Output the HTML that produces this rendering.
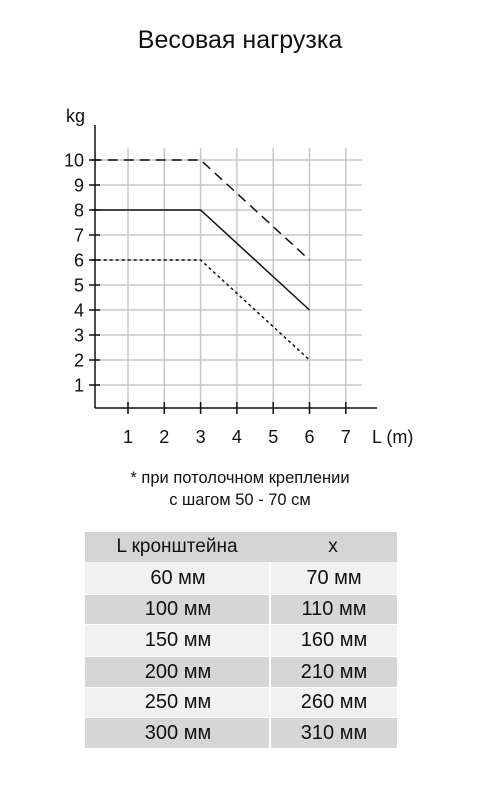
<!DOCTYPE html>
<html><head><meta charset="utf-8"><style>
body{margin:0;background:#fff;font-family:"Liberation Sans","DejaVu Sans",sans-serif;}
#wrap{position:relative;width:480px;height:800px;overflow:hidden;}
.t{position:absolute;color:#111;}
.cell{position:absolute;font-size:20px;text-align:center;color:#111;}
</style></head><body>
<div id="wrap">
<div class="t" style="left:0;width:480px;top:26px;text-align:center;font-size:25px;">Весовая нагрузка</div>
<svg id="chart" width="480" height="460" style="position:absolute;left:0;top:0"></svg>
<div class="t" style="left:0;width:480px;top:467px;text-align:center;font-size:16.5px;line-height:22px;">* при потолочном креплении<br>с шагом 50 - 70 см</div>
<div id="table"></div>
</div>
<script>
const xTicks=[1,2,3,4,5,6,7];
const yTicks=[1,2,3,4,5,6,7,8,9,10];
const seriesX=[0,3,6];
const seriesHigh=[10,10,6];
const seriesMid=[8,8,4];
const seriesLow=[6,6,2];
const colL=["60 мм","100 мм","150 мм","200 мм","250 мм","300 мм"];
const colX=["70 мм","110 мм","160 мм","210 мм","260 мм","310 мм"];

const NS="http://www.w3.org/2000/svg";
const svg=document.getElementById('chart');
const xs=v=>91.7+36.3*v, ys=v=>410-25*v;
function mk(tag,attrs,parent){const e=document.createElementNS(NS,tag);for(const k in attrs)e.setAttribute(k,attrs[k]);(parent||svg).appendChild(e);return e;}
xTicks.forEach(v=>{
 const g=mk('line',{x1:xs(v),x2:xs(v),y1:148,y2:408,stroke:'#c8c8c8','stroke-width':1.5});
 
 const t=mk('line',{x1:xs(v),x2:xs(v),y1:402,y2:414,stroke:'#111','stroke-width':1.5});
 
 const l=mk('text',{x:xs(v),y:443,'text-anchor':'middle','font-size':18,fill:'#111'});
 l.textContent=v;
});
yTicks.forEach(v=>{
 const g=mk('line',{x1:95,x2:362,y1:ys(v),y2:ys(v),stroke:'#c8c8c8','stroke-width':1.5});
 
 const t=mk('line',{x1:89,x2:100,y1:ys(v),y2:ys(v),stroke:'#111','stroke-width':1.5});
 
 const l=mk('text',{x:84,y:ys(v)+6.5,'text-anchor':'end','font-size':18,fill:'#111'});
 l.textContent=v;
});
const ya=mk('line',{x1:95,x2:95,y1:125,y2:408,stroke:'#111','stroke-width':1.5});

const xa=mk('line',{x1:95,x2:377,y1:408,y2:408,stroke:'#111','stroke-width':1.5});

const yt=mk('text',{x:66,y:122,'font-size':18,fill:'#111'});yt.textContent='kg';

const xt=mk('text',{x:372,y:443,'font-size':18,fill:'#111'});xt.textContent='L (m)';

function line(vals,dash,name){
 const p=mk('polyline',{points:seriesX.map((x,i)=>xs(x)+','+ys(vals[i])).join(' '),fill:'none',stroke:'#111','stroke-width':1.5,'stroke-dasharray':dash});
 
}
line(seriesHigh,'10,6','series-10kg');
line(seriesMid,'none','series-8kg');
line(seriesLow,'3,3','series-6kg');

const tb=document.getElementById('table');
function cell(txt,l,t,w,h,bg,name,extra){
 const d=document.createElement('div');d.className='cell';
 d.style.cssText+=`left:${l}px;top:${t}px;width:${w}px;height:${h}px;line-height:${h}px;background:${bg};`+(extra||'');
 d.textContent=txt;tb.appendChild(d);
}
cell('L  кронштейна',85,532,184,30,'#d4d4d4','header-l','font-size:19px;');
cell('x',269,532,128,30,'#d4d4d4','header-x','font-size:19px;');
const rowT=[562,595,625,657,688,718,749];
colL.forEach((v,i)=>{
 const bg=i%2?'#d6d6d6':'#f1f1f1';const h=rowT[i+1]-rowT[i]-1;
 cell(v,85,rowT[i],182,h,bg,'cell-l','padding-left:2px;');
 cell(colX[i],271,rowT[i],126,h,bg,'cell-x');
});
</script>
</body></html>
